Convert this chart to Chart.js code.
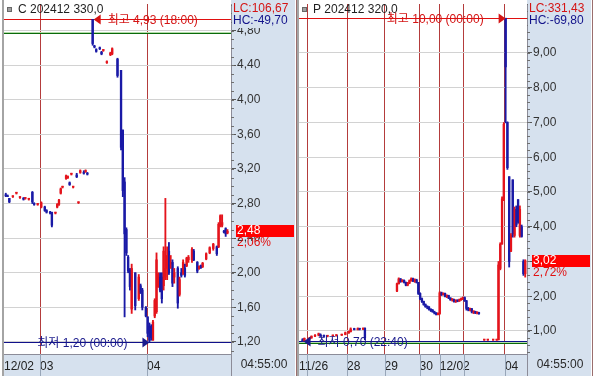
<!DOCTYPE html>
<html>
<head>
<meta charset="utf-8">
<script src="https://cdn.jsdelivr.net/npm/chart.js@4.4.1/dist/chart.umd.min.js"></script>
<style>
  html, body { margin: 0; padding: 0; width: 595px; height: 376px; overflow: hidden; background: #fff; }
  canvas { position: absolute; top: 0; }
  #callChart { left: 0; }
  #putChart { left: 297px; }
</style>
</head>
<body>
<canvas id="callChart" width="297" height="376"></canvas>
<canvas id="putChart" width="298" height="376"></canvas>
<script>
// ---- C 202412 330,0 (bar slot, OHLC) ----
const callSlot = [1, 2, 3, 5, 7, 9, 11, 12, 14, 16, 17, 19, 21, 23, 24, 26, 27, 29, 30, 31, 32, 33, 35, 36, 37, 38, 39, 41, 42, 43, 45, 46, 47,
  50, 51, 52, 54, 55, 56, 58, 60, 61, 64, 66, 67, 68, 69, 70, 71, 72, 74, 76, 77, 78, 80, 81, 82, 83, 84, 85, 86, 87, 88, 89, 90, 91, 92, 93, 94, 95, 96, 98, 99,
  100, 101, 102, 103, 104, 106, 107, 109, 110, 111, 112, 114, 116, 118, 120, 121, 122, 123, 124, 125, 126];
const callOpen = [2.90, 2.89, 2.86, 2.88, 2.92, 2.87, 2.86, 2.86, 2.85, 2.93, 2.80, 2.79, 2.76, 2.76, 2.72, 2.70, 2.70, 2.69, 2.76, 2.79, 2.92, 2.99, 3.09, 3.10, 3.04, 3.14, 2.99, 3.13, 2.81, 3.16, 3.16, 3.17, 3.15,
  4.93, 4.62, 4.58, 4.60, 4.55, 4.57, 4.43, 4.52, 4.53, 4.47, 4.34, 3.65, 3.05, 2.50, 2.18, 2.03, 1.58, 2.00, 1.70, 1.85, 1.80, 1.60, 1.49, 1.38, 1.38, 1.22, 1.50, 1.55, 1.84, 1.95, 1.95, 1.85, 1.95, 2.05, 2.25, 2.10, 2.12, 1.95, 2.05, 1.75,
  2.00, 2.00, 2.05, 2.08, 2.15, 2.15, 2.25, 2.12, 2.05, 2.08, 2.07, 2.16, 2.23, 2.28, 2.30, 2.30, 2.54, 2.55, 2.48, 2.51, 2.46];
const callHigh = [2.92, 2.90, 2.86, 2.89, 2.93, 2.88, 2.87, 2.87, 2.86, 2.94, 2.81, 2.80, 2.82, 2.77, 2.73, 2.71, 2.70, 2.70, 2.80, 2.85, 2.98, 3.00, 3.13, 3.12, 3.05, 3.15, 3.00, 3.15, 2.82, 3.19, 3.18, 3.19, 3.16,
  4.93, 4.63, 4.59, 4.61, 4.56, 4.58, 4.45, 4.55, 4.60, 4.48, 4.34, 3.65, 3.10, 2.52, 2.20, 2.05, 2.10, 2.00, 1.98, 1.87, 1.82, 1.61, 1.49, 1.42, 1.40, 1.45, 1.70, 2.23, 2.00, 2.00, 2.00, 2.30, 2.86, 2.30, 2.35, 2.20, 2.15, 2.05, 2.07, 1.95,
  2.05, 2.15, 2.10, 2.18, 2.20, 2.29, 2.27, 2.13, 2.08, 2.09, 2.12, 2.23, 2.30, 2.34, 2.31, 2.58, 2.67, 2.67, 2.49, 2.52, 2.50];
const callLow = [2.88, 2.88, 2.81, 2.87, 2.91, 2.86, 2.84, 2.85, 2.84, 2.80, 2.78, 2.78, 2.75, 2.71, 2.69, 2.68, 2.53, 2.68, 2.75, 2.78, 2.91, 2.98, 3.08, 3.09, 3.01, 3.13, 2.98, 3.10, 2.80, 3.15, 3.14, 3.16, 3.13,
  4.63, 4.60, 4.55, 4.58, 4.52, 4.56, 4.42, 4.51, 4.52, 4.26, 3.42, 2.88, 1.49, 2.20, 2.00, 1.80, 1.53, 1.57, 1.68, 1.76, 1.57, 1.49, 1.26, 1.20, 1.22, 1.22, 1.48, 1.53, 1.83, 1.78, 1.65, 1.80, 1.92, 1.92, 1.98, 2.05, 1.84, 1.88, 1.59, 1.73,
  1.95, 1.98, 1.95, 2.07, 2.12, 2.12, 2.14, 2.00, 2.04, 2.05, 2.06, 2.15, 2.22, 2.26, 2.20, 2.29, 2.53, 2.53, 2.46, 2.42, 2.45];
const callClose = [2.89, 2.88, 2.82, 2.88, 2.92, 2.87, 2.85, 2.86, 2.85, 2.82, 2.79, 2.79, 2.81, 2.72, 2.70, 2.69, 2.55, 2.69, 2.79, 2.84, 2.97, 3.00, 3.12, 3.11, 3.02, 3.15, 2.99, 3.11, 2.81, 3.18, 3.15, 3.18, 3.14,
  4.65, 4.61, 4.56, 4.59, 4.53, 4.57, 4.44, 4.54, 4.59, 4.28, 3.45, 2.95, 2.45, 2.23, 2.02, 1.84, 2.05, 1.62, 1.95, 1.78, 1.60, 1.50, 1.30, 1.22, 1.25, 1.43, 1.68, 2.15, 1.98, 1.80, 1.70, 2.25, 2.05, 2.20, 2.00, 2.12, 1.88, 2.00, 1.65, 1.92,
  1.97, 2.12, 1.97, 2.17, 2.18, 2.27, 2.15, 2.02, 2.07, 2.06, 2.11, 2.22, 2.29, 2.33, 2.22, 2.56, 2.66, 2.58, 2.47, 2.45, 2.48];
const callDayTicks = [0, 20.3, 80.7];
const callDayLabels = ["12/02", "03", "04"];

// ---- P 202412 320,0 ----
const putSlot = [2, 3, 6, 7, 9, 11, 12, 14, 16, 19, 21, 24, 26, 28, 29, 31, 33, 34, 36, 37,
  55, 56, 57, 58, 59, 60, 61, 62, 63, 64, 65, 66, 67, 68, 69, 70, 71, 72, 73, 74, 75, 76, 77, 78,
  79, 80, 81, 82, 83, 84, 85, 86, 87, 88, 89, 90, 91, 92, 93, 94, 95, 96, 97, 98, 99, 100, 101,
  104, 106, 109, 111, 112, 113, 114, 115, 116, 117, 118, 119, 120, 121, 122, 123, 124, 125, 126, 127];
const putOpen = [0.75, 0.72, 0.78, 0.80, 0.85, 0.88, 0.90, 0.86, 0.85, 0.86, 0.87, 0.88, 0.90, 0.95, 0.98, 1.06, 1.04, 1.07, 1.05, 1.08,
  2.15, 2.36, 2.50, 2.42, 2.46, 2.40, 2.32, 2.38, 2.45, 2.50, 2.44, 2.47, 2.40, 2.08, 1.93, 1.85, 1.76, 1.70, 1.69, 1.62, 1.60, 1.55, 1.52, 1.48,
  1.50, 2.10, 2.05, 2.08, 2.00, 2.02, 1.95, 1.90, 1.91, 1.85, 1.88, 1.86, 1.90, 1.93, 1.96, 1.87, 1.65, 1.62, 1.64, 1.55, 1.56, 1.52, 1.53,
  0.74, 0.74, 0.74, 0.74, 0.75, 2.80, 3.50, 4.80, 10.00, 7.00, 5.44, 3.30, 5.35, 3.75, 4.50, 4.78, 3.75, 4.00, 3.00, 2.65];
const putHigh = [0.78, 0.80, 0.82, 0.86, 0.90, 0.94, 0.92, 0.88, 0.87, 0.88, 0.89, 0.91, 0.97, 1.00, 1.09, 1.08, 1.09, 1.08, 1.09, 1.09,
  2.38, 2.53, 2.51, 2.48, 2.47, 2.41, 2.40, 2.47, 2.53, 2.52, 2.50, 2.49, 2.40, 2.10, 1.95, 1.86, 1.78, 1.72, 1.70, 1.64, 1.62, 1.57, 1.53, 1.52,
  2.13, 2.12, 2.10, 2.09, 2.04, 2.03, 1.96, 1.93, 1.92, 1.90, 1.90, 1.92, 1.95, 1.98, 1.98, 1.88, 1.68, 1.66, 1.65, 1.58, 1.57, 1.55, 1.54,
  0.75, 0.75, 0.75, 0.76, 3.00, 3.54, 4.86, 7.00, 10.00, 7.02, 5.44, 3.80, 5.35, 4.57, 4.60, 4.78, 4.60, 4.05, 3.05, 3.05];
const putLow = [0.70, 0.71, 0.76, 0.79, 0.84, 0.86, 0.84, 0.83, 0.83, 0.84, 0.85, 0.87, 0.89, 0.93, 0.97, 1.03, 1.03, 1.03, 1.04, 0.75,
  2.13, 2.35, 2.40, 2.41, 2.38, 2.30, 2.30, 2.36, 2.43, 2.42, 2.40, 2.38, 2.05, 1.90, 1.82, 1.74, 1.68, 1.64, 1.60, 1.56, 1.54, 1.49, 1.46, 1.46,
  1.48, 2.02, 2.03, 1.98, 1.96, 1.93, 1.88, 1.86, 1.83, 1.82, 1.84, 1.85, 1.88, 1.90, 1.85, 1.60, 1.58, 1.58, 1.52, 1.50, 1.50, 1.49, 1.48,
  0.73, 0.73, 0.73, 0.73, 0.74, 2.76, 3.50, 4.75, 6.99, 5.65, 2.84, 3.28, 3.70, 3.70, 4.00, 4.10, 3.70, 3.70, 2.60, 2.55];
const putClose = [0.72, 0.79, 0.80, 0.85, 0.88, 0.92, 0.86, 0.85, 0.86, 0.87, 0.88, 0.90, 0.95, 0.98, 1.06, 1.04, 1.07, 1.05, 1.08, 0.80,
  2.36, 2.50, 2.42, 2.46, 2.40, 2.32, 2.38, 2.45, 2.50, 2.44, 2.47, 2.40, 2.08, 1.93, 1.85, 1.76, 1.70, 1.69, 1.62, 1.60, 1.55, 1.52, 1.48, 1.50,
  2.10, 2.05, 2.08, 2.00, 2.02, 1.95, 1.90, 1.91, 1.85, 1.88, 1.86, 1.90, 1.93, 1.96, 1.87, 1.65, 1.62, 1.64, 1.55, 1.56, 1.52, 1.53, 1.50,
  0.74, 0.74, 0.74, 0.75, 2.90, 3.50, 4.80, 6.95, 8.60, 5.70, 3.00, 3.75, 3.80, 4.50, 4.05, 4.15, 4.50, 3.72, 2.65, 3.02];
const putDayTicks = [0, 4.5, 27, 48, 67.7, 79, 92.5, 115.6];
const putDayLabels = ["11/26", "", "28", "29", "30", "12/02", "", "04"];

const callInfo = { title: "C 202412 330,0", lc: "LC:106,67", hc: "HC:-49,70", last: 2.48, pct: "2,06%",
  hi: 4.93, hiSlot: 50, hiTime: "18:00", lo: 1.20, loSlot: 82, loTime: "00:00", level: 4.775, minorSteps: 4 };
const putInfo = { title: "P 202412 320,0", lc: "LC:331,43", hc: "HC:-69,80", last: 3.02, pct: "2,72%",
  hi: 10.00, hiSlot: 116, hiTime: "00:00", lo: 0.70, loSlot: 2, loTime: "22:40", level: 0.655, minorSteps: 5 };

const FONT = "'Liberation Sans', 'Noto Sans CJK KR', sans-serif";
const AXIS_BG = "#d6e1ee";
const UP = "#e4141c";
const DOWN = "#1a1aa6";
const fmt = (v) => v.toFixed(2).replace(".", ",");

Chart.defaults.font.family = FONT;
Chart.defaults.font.size = 12;
Chart.defaults.color = "#2a2a2a";

const htsPlugin = {
  id: "hts",
  beforeDraw(chart, args, o) {
    const { ctx, chartArea: a, width, height } = chart;
    const yAx = chart.scales.y;
    ctx.save();
    ctx.fillStyle = "#fff";
    ctx.fillRect(0, 0, width, height);
    ctx.fillStyle = AXIS_BG;
    ctx.fillRect(a.right, 0, yAx.right - a.right, height);
    ctx.fillRect(a.left, a.bottom, a.right - a.left, height - a.bottom);
    ctx.fillStyle = "#a4a4a4";
    ctx.fillRect(a.left - 2, 0, 2, height);
    ctx.restore();
  },
  beforeDatasetsDraw(chart, args, o) {
    const { ctx, chartArea: a, scales: { y } } = chart;
    ctx.save();
    ctx.lineWidth = 1;
    const line = (v, color, dy) => {
      const py = Math.round(y.getPixelForValue(v)) + 0.5 + (dy || 0);
      ctx.strokeStyle = color;
      ctx.beginPath(); ctx.moveTo(a.left, py); ctx.lineTo(a.right, py); ctx.stroke();
    };
    line(o.level, "#b4dcaa", -1);
    line(o.level, "#0a6a0a");
    line(o.hi, "#e01010");
    line(o.lo, "#10108a");
    ctx.restore();
  },
  afterDatasetsDraw(chart, args, o) {
    const { ctx, chartArea: a, scales: { x, y } } = chart;
    const mid = (a.left + a.right) / 2;
    ctx.save();
    ctx.font = "12px " + FONT;
    ctx.textBaseline = "middle";
    const mark = (val, slot, text, color) => {
      const bx = x.getPixelForValue(slot);
      const py = Math.round(y.getPixelForValue(val)) + 0.5;
      ctx.fillStyle = color;
      ctx.beginPath();
      if (bx < mid) {
        const tip = bx + 1;
        ctx.moveTo(tip, py); ctx.lineTo(tip + 7, py - 5); ctx.lineTo(tip + 7, py + 5);
        ctx.fill();
        ctx.textAlign = "left";
        ctx.fillText(text, tip + 14, py + 1);
      } else {
        const tip = bx;
        ctx.moveTo(tip, py); ctx.lineTo(tip - 7, py - 5); ctx.lineTo(tip - 7, py + 5);
        ctx.fill();
        ctx.textAlign = "right";
        ctx.fillText(text, tip - 22, py + 1);
      }
    };
    mark(o.hi, o.hiSlot, "최고 " + fmt(o.hi) + " (" + o.hiTime + ")", "#d41414");
    mark(o.lo, o.loSlot, "최저 " + fmt(o.lo) + " (" + o.loTime + ")", "#1a1a8c");
    ctx.restore();
  },
  afterDraw(chart, args, o) {
    const { ctx, chartArea: a, height, scales: { x, y } } = chart;
    ctx.save();
    // minor ticks on the price axis
    ctx.strokeStyle = "#707070";
    ctx.lineWidth = 1;
    const step = y.ticks.length > 1 ? y.ticks[1].value - y.ticks[0].value : 1;
    const minor = step / o.minorSteps;
    for (let v = Math.ceil(y.min / minor) * minor; v <= y.max; v += minor) {
      const py = Math.round(y.getPixelForValue(v)) + 0.5;
      ctx.beginPath(); ctx.moveTo(a.right, py); ctx.lineTo(a.right + 3, py); ctx.stroke();
    }
    // bottom band separators
    ctx.strokeStyle = "#98a6b8";
    x.ticks.forEach((t) => {
      const px = Math.round(x.getPixelForValue(t.value)) + 0.5;
      if (t.value === 0) return;
      ctx.beginPath(); ctx.moveTo(px, a.bottom); ctx.lineTo(px, height); ctx.stroke();
    });
    ctx.strokeStyle = "#8c8c98";
    ctx.beginPath(); ctx.moveTo(a.right + 0.5, a.bottom); ctx.lineTo(a.right + 0.5, height); ctx.stroke();
    ctx.strokeStyle = "#9a6e6e";
    ctx.beginPath(); ctx.moveTo(y.right + 1.5, 0); ctx.lineTo(y.right + 1.5, height); ctx.stroke();
    // time
    ctx.font = "12px " + FONT;
    ctx.fillStyle = "#2a2a2a";
    ctx.textAlign = "center";
    ctx.textBaseline = "middle";
    ctx.fillText("04:55:00", (a.right + y.right) / 2 + 1, a.bottom + 11);
    // LC / HC
    ctx.fillStyle = AXIS_BG;
    ctx.fillRect(a.right + 1, 0, y.right - a.right - 1, 28);
    ctx.textAlign = "left";
    ctx.fillStyle = "#d41414";
    ctx.fillText(o.lc, a.right + 2, 9);
    ctx.fillStyle = "#12128a";
    ctx.fillText(o.hc, a.right + 2, 21);
    // last price box
    const yp = Math.round(y.getPixelForValue(o.last));
    ctx.fillStyle = "#ff0000";
    ctx.fillRect(a.right + 5, yp - 6, 58, 12);
    ctx.fillStyle = "#fff";
    ctx.fillText(fmt(o.last), a.right + 6, yp);
    ctx.fillStyle = "#e01010";
    ctx.fillText(o.pct, a.right + 6, yp + 12);
    // title
    ctx.fillStyle = "#a0a0a0";
    ctx.fillRect(a.left + 3, 7, 5, 5);
    ctx.strokeStyle = "#686868";
    ctx.strokeRect(a.left + 3.5, 7.5, 4, 4);
    ctx.fillStyle = "#1e1e1e";
    ctx.fillText(o.title, a.left + 14, 10);
    ctx.restore();
  },
};

function candleSets(slot, open, high, low, close) {
  const colors = open.map((v, i) => (close[i] >= v ? UP : DOWN));
  return [
    { data: slot.map((s, i) => ({ x: s, y: [low[i], high[i]] })), backgroundColor: colors,
      barThickness: 1.2, grouped: false, borderWidth: 0 },
    { data: slot.map((s, i) => ({ x: s, y: [open[i], close[i]] })), backgroundColor: colors,
      barThickness: 1.7, minBarLength: 1, grouped: false, borderWidth: 0 },
  ];
}

function makePanel(canvasId, sets, dayTicks, dayLabels, yMin, yMax, yStep, info, padLeft, padRight) {
  return new Chart(document.getElementById(canvasId), {
    type: "bar",
    data: { datasets: sets },
    plugins: [htsPlugin],
    options: {
      responsive: false,
      animation: false,
      devicePixelRatio: 1,
      events: [],
      layout: { padding: { left: padLeft, right: padRight, top: 4, bottom: 0 } },
      plugins: { legend: { display: false }, tooltip: { enabled: false }, hts: info },
      scales: {
        x: {
          type: "linear",
          min: 0,
          max: 128,
          offset: false,
          afterBuildTicks: (scale) => { scale.ticks = dayTicks.map((v) => ({ value: v })); },
          afterFit: (scale) => { scale.height = 22; scale.paddingLeft = 0; scale.paddingRight = 0; },
          ticks: {
            autoSkip: false,
            maxRotation: 0,
            minRotation: 0,
            align: "start",
            padding: 5,
            color: "#222",
            callback: (v) => dayLabels[dayTicks.indexOf(v)],
          },
          grid: {
            offset: false,
            drawTicks: false,
            color: (c) => (c.tick && c.tick.value === 0 ? "rgba(0,0,0,0)" : "#b43c3c"),
          },
          border: { color: "#8c8c98" },
        },
        y: {
          position: "right",
          min: yMin,
          max: yMax,
          afterFit: (scale) => { scale.width = 64; scale.paddingTop = 0; scale.paddingBottom = 0; },
          ticks: { stepSize: yStep, includeBounds: false, padding: 1, color: "#333", callback: (v) => fmt(v) },
          grid: { color: "#d2d2d2", tickColor: "#555", tickLength: 5 },
          border: { color: "#8c8c98" },
        },
      },
    },
  });
}

makePanel("callChart", candleSets(callSlot, callOpen, callHigh, callLow, callClose),
  callDayTicks, callDayLabels, 1.061, 5.107, 0.4, callInfo, 4, 2);
makePanel("putChart", candleSets(putSlot, putOpen, putHigh, putLow, putClose),
  putDayTicks, putDayLabels, 0.338, 10.41, 1, putInfo, 2, 4);
</script>
</body>
</html>
